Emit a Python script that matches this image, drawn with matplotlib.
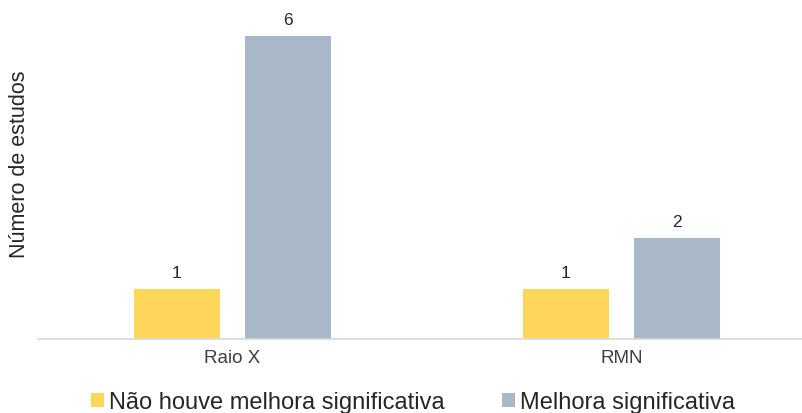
import matplotlib
matplotlib.use("Agg")
from matplotlib import pyplot as plt
import numpy as np

categories = ["Raio X", "RMN"]
series_names = ["Não houve melhora significativa", "Melhora significativa"]
sem_melhora = [1, 1]
com_melhora = [6, 2]
colors = ["#FFD55A", "#A9B8C9"]

plt.rcParams["font.family"] = ["Liberation Sans", "DejaVu Sans"]

W, H = 803, 414
fig = plt.figure(figsize=(W / 100, H / 100), dpi=100)
# axes in pixel coords: left 38, baseline 340, one unit = 50.5 px
left, bottom = 38, H - 340
unit = 50.5
ymax = 6.6
ax = fig.add_axes([left / W, bottom / H, (W - left) / W, ymax * unit / H])

x = np.arange(len(categories))
width = 0.221
off = 0.1435
b1 = ax.bar(x - off, sem_melhora, width, color=colors[0], label=series_names[0])
b2 = ax.bar(x + off, com_melhora, width, color=colors[1], label=series_names[1])

for bars in (b1, b2):
    for r in bars:
        ax.text(r.get_x() + r.get_width() / 2, r.get_height() + 0.17, str(int(r.get_height())),
                ha="center", va="bottom", fontsize=12.5, color="#262626")

ax.set_xlim(-0.5, -0.5 + (W - left) / 389)
ax.set_ylim(0, ymax)
ax.set_xticks(x)
ax.set_xticklabels(categories, fontsize=13.5, color="#404040")
ax.tick_params(axis="x", length=0, pad=7)
ax.set_yticks([])
for s in ["top", "right", "left"]:
    ax.spines[s].set_visible(False)
ax.spines["bottom"].set_color("#D9D9D9")
ax.spines["bottom"].set_linewidth(1.2)

fig.text(20 / W, 1 - 164 / H, "Número de estudos", rotation=90, ha="center", va="center",
         fontsize=15.5, color="#262626")

fig.legend(handles=[b1, b2], labels=series_names, loc="center", bbox_to_anchor=(413 / W, 1 - 403 / H),
           ncol=2, frameon=False, fontsize=17, handlelength=0.55, handleheight=0.55,
           handletextpad=0.2, columnspacing=2.45, labelcolor="#262626")

fig.savefig("out.png", dpi=100)
